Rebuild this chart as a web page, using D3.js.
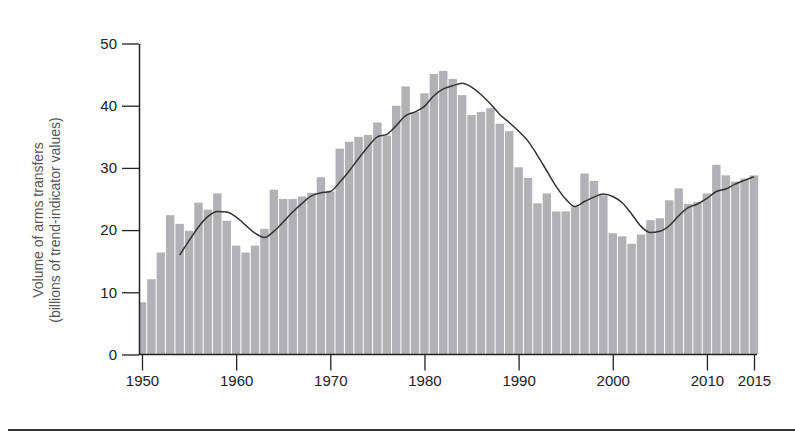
<!DOCTYPE html>
<html>
<head>
<meta charset="utf-8">
<script src="https://cdn.jsdelivr.net/npm/d3@7"></script>
<style>
  html, body { margin: 0; padding: 0; background: #fff; }
  svg { display: block; }
</style>
</head>
<body>
<script>
// ---- data ----
const years = d3.range(1950, 2016);
const transfers = [
  8.4, 12.1, 16.4, 22.4, 21.0, 19.9, 24.4, 23.3, 25.9, 21.5,
  17.5, 16.4, 17.5, 20.2, 26.5, 25.0, 25.0, 25.4, 26.0, 28.5,
  26.2, 33.1, 34.2, 35.0, 35.3, 37.3, 35.2, 40.0, 43.1, 39.0,
  42.0, 45.1, 45.6, 44.3, 41.7, 38.5, 39.0, 39.6, 37.1, 35.9,
  30.1, 28.4, 24.3, 25.9, 23.0, 23.0, 23.8, 29.1, 27.9, 25.6,
  19.5, 19.0, 17.8, 19.3, 21.6, 21.9, 24.8, 26.7, 24.2, 24.5,
  25.9, 30.5, 28.8, 27.8, 28.3, 28.8
];
const trendYears = d3.range(1954, 2016);
const trend = [
  16.0, 18.3, 20.5, 22.2, 23.0, 22.9,
  22.1, 20.8, 19.5, 18.8, 19.8, 21.3, 22.9, 24.3, 25.5, 26.0,
  26.2, 27.7, 29.5, 31.5, 33.4, 35.0, 35.4, 36.8, 38.4, 39.0,
  39.9, 41.6, 42.7, 43.2, 43.6, 43.0, 41.8, 40.3, 38.6, 37.3,
  35.9, 34.3, 32.0, 29.5, 27.0, 25.0, 23.8, 24.6, 25.3, 25.8,
  25.4, 24.4, 22.6, 20.6, 19.6, 19.8, 20.7, 22.3, 23.6, 24.2,
  25.1, 26.2, 26.6, 27.4, 28.0, 28.6
];
const xTickValues = [1950, 1960, 1970, 1980, 1990, 2000, 2010, 2015];
const yTickValues = [0, 10, 20, 30, 40, 50];
const yTitleLines = ["Volume of arms transfers", "(billions of trend-indicator values)"];

// ---- layout ----
const W = 795, H = 434;
const axisX = 139, axisY = 354.5;
const svg = d3.select("body").append("svg").attr("width", W).attr("height", H);

const x = d3.scaleLinear().domain([1950, 2015]).range([142, 754]);
const y = d3.scaleLinear().domain([0, 50]).range([axisY, 43.5]);
const step = x(1951) - x(1950);
const bw = step - 1;

svg.append("clipPath").attr("id", "plotclip")
  .append("rect").attr("x", axisX).attr("y", 0).attr("width", W).attr("height", axisY);

// bars
svg.append("g").attr("clip-path", "url(#plotclip)")
  .selectAll("rect").data(years).join("rect")
  .attr("x", (d) => x(d) - bw / 2)
  .attr("width", bw)
  .attr("y", (d, i) => y(transfers[i]))
  .attr("height", (d, i) => axisY - y(transfers[i]))
  .attr("fill", "#b2b2b6");

// trend line
const line = d3.line()
  .x((d) => x(d))
  .y((d, i) => y(trend[i]))
  .curve(d3.curveMonotoneX);
svg.append("path").datum(trendYears)
  .attr("d", line)
  .attr("fill", "none")
  .attr("stroke", "#333")
  .attr("stroke-width", 1.5);

const font = "'Liberation Sans', Arial, sans-serif";

// y axis
const yAxis = svg.append("g").attr("transform", `translate(${axisX},0)`)
  .call(d3.axisLeft(y).tickValues(yTickValues).tickSize(17).tickSizeOuter(0).tickPadding(5));
yAxis.select(".domain").attr("stroke", "#222").attr("stroke-width", 1.5);
yAxis.selectAll(".tick line").attr("stroke", "#222").attr("stroke-width", 1.3);
yAxis.selectAll(".tick text").attr("font-family", font).attr("font-size", 15).attr("fill", "#222");

// x axis
const xAxis = svg.append("g").attr("transform", `translate(0,${axisY})`)
  .call(d3.axisBottom(x).tickValues(xTickValues).tickFormat(d3.format("d")).tickSize(16).tickSizeOuter(0).tickPadding(5));
xAxis.select(".domain").remove();
xAxis.append("line").attr("x1", axisX).attr("x2", 757).attr("y1", 0).attr("y2", 0)
  .attr("stroke", "#222").attr("stroke-width", 1.5);
xAxis.selectAll(".tick line").attr("stroke", "#222").attr("stroke-width", 1.3);
xAxis.selectAll(".tick text").attr("font-family", font).attr("font-size", 15).attr("fill", "#222");

// y title
const yt = svg.append("text")
  .attr("transform", "translate(43,220) rotate(-90)")
  .attr("text-anchor", "middle")
  .attr("font-family", font).attr("font-size", 14).attr("fill", "#555");
yTitleLines.forEach((t, i) => {
  yt.append("tspan").attr("x", 0).attr("dy", i === 0 ? 0 : 17).text(t);
});

// bottom rule
svg.append("line").attr("x1", 8).attr("x2", W).attr("y1", 430).attr("y2", 430)
  .attr("stroke", "#333").attr("stroke-width", 2);
</script>
</body>
</html>
